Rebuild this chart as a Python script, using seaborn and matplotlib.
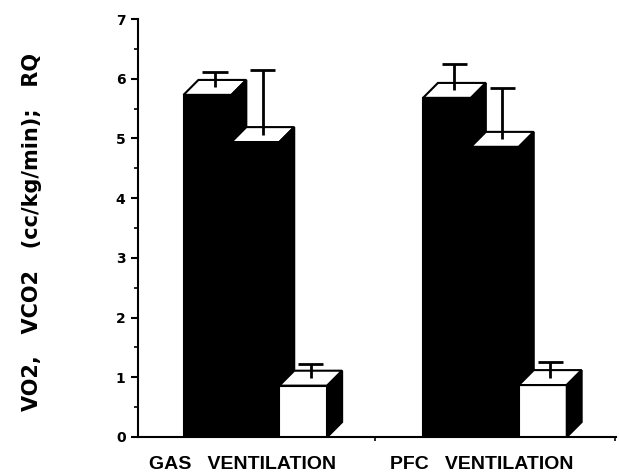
import matplotlib
matplotlib.use("Agg")
import matplotlib.pyplot as plt
import matplotlib.transforms as mtransforms
from matplotlib.patches import Polygon
from matplotlib.ticker import MultipleLocator, FixedLocator
import pandas as pd
import seaborn as sns

# ========== 数据 ==========
groups = ["GAS   VENTILATION", "PFC   VENTILATION"]
series = ["VO2", "VCO2", "RQ"]
gas_vals = [5.73, 4.94, 0.86]
pfc_vals = [5.68, 4.86, 0.87]
gas_sd = [0.26, 1.08, 0.24]
pfc_sd = [0.44, 0.86, 0.26]
ylabel = "VO2,   VCO2   (cc/kg/min);   RQ"

df = pd.DataFrame({
    "group": [groups[0]] * 3 + [groups[1]] * 3,
    "series": series * 2,
    "value": gas_vals + pfc_vals,
    "sd": gas_sd + pfc_sd,
})

sns.set_style("ticks")
plt.rcParams["font.family"] = ["DejaVu Sans"]
plt.rcParams["text.color"] = "black"
plt.rcParams["axes.labelcolor"] = "black"
plt.rcParams["xtick.color"] = "black"
plt.rcParams["ytick.color"] = "black"
plt.rcParams["axes.edgecolor"] = "black"

fig = plt.figure(figsize=(6.19, 4.76), dpi=100)
ax = fig.add_axes([0.223, 0.082, 0.772, 0.878])

palette = {"VO2": "black", "VCO2": "black", "RQ": "white"}
sns.barplot(data=df, x="group", y="value", hue="series", hue_order=series,
            order=groups, palette=palette, width=0.6, edgecolor="black",
            linewidth=1.5, errorbar=None, legend=False, ax=ax)

# 3D 立体效果：顶面 + 侧面，误差线从顶面中心向上
dx, dy = 0.062, 0.25
cap_w = 0.105
bars = sorted(ax.patches, key=lambda p: p.get_x())
sd_list = [gas_sd[0], gas_sd[1], gas_sd[2], pfc_sd[0], pfc_sd[1], pfc_sd[2]]
for i, p in enumerate(bars):
    x0 = p.get_x()
    x1 = x0 + p.get_width()
    h = p.get_height()
    z = 2 + i * 3
    p.set_zorder(z)
    top = Polygon([(x0, h), (x0 + dx, h + dy), (x1 + dx, h + dy), (x1, h)],
                  closed=True, facecolor="white", edgecolor="black",
                  linewidth=1.5, zorder=z + 0.5)
    side = Polygon([(x1, 0), (x1, h), (x1 + dx, h + dy), (x1 + dx, dy)],
                   closed=True, facecolor="black", edgecolor="black",
                   linewidth=1.5, zorder=z + 0.5)
    ax.add_patch(top)
    ax.add_patch(side)
    sd = sd_list[i]
    cx = (x0 + x1) / 2 + dx / 2
    cy = h + dy / 2
    ax.vlines(cx, cy, cy + sd, color="black", linewidth=2, zorder=z + 1)
    ax.hlines(cy + sd, cx - cap_w / 2, cx + cap_w / 2, color="black",
              linewidth=2, zorder=z + 1)

ax.set_xlim(-0.49, 1.505)
ax.set_ylim(0, 7)
ax.yaxis.set_major_locator(MultipleLocator(1))
ax.yaxis.set_minor_locator(MultipleLocator(0.5))
ax.xaxis.set_minor_locator(FixedLocator([0.5, 1.5]))
ax.tick_params(axis="y", which="major", length=5, width=1.5, pad=4,
               labelsize=10)
ax.tick_params(axis="y", which="minor", length=3, width=1.2)
ax.tick_params(axis="x", which="major", length=0, pad=14)
ax.tick_params(axis="x", which="minor", length=3, width=1.2)
for lab in ax.get_yticklabels():
    lab.set_fontweight("bold")

ax.set_xlabel("")
ax.set_xticks([0, 1])
ax.set_xticklabels(groups, fontsize=14, fontweight="bold",
                   family=["Liberation Sans", "DejaVu Sans"])
offset = mtransforms.ScaledTranslation(-13 / 100, 0, fig.dpi_scale_trans)
for lab in ax.get_xticklabels():
    lab.set_transform(lab.get_transform() + offset)

ax.set_ylabel(ylabel, fontsize=15, fontweight="bold")
ax.yaxis.set_label_coords(-0.2, 0.49)

for s in ["top", "right"]:
    ax.spines[s].set_visible(False)
ax.spines["left"].set_linewidth(1.5)
ax.spines["bottom"].set_linewidth(1.5)

plt.savefig("out.png", dpi=100)
